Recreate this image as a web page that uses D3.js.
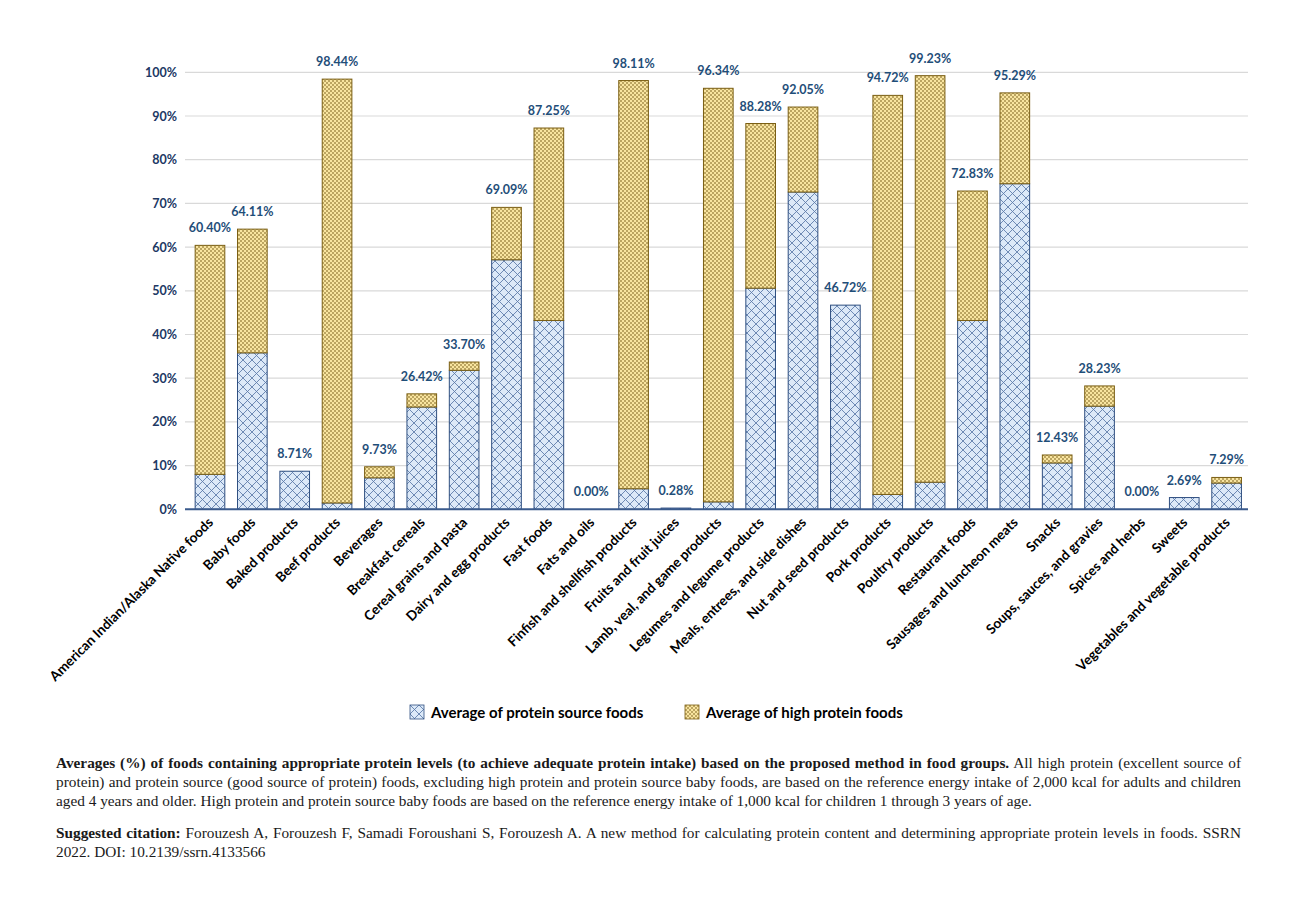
<!DOCTYPE html>
<html>
<head>
<meta charset="utf-8">
<script src="https://cdn.jsdelivr.net/npm/d3@7"></script>
<style>
  html, body { margin: 0; padding: 0; background: #fff; }
  #wrap { position: relative; width: 1297px; height: 917px; overflow: hidden; }
  svg { position: absolute; left: 0; top: 0; }
  .cap { position: absolute; left: 56px; width: 1185px; font-family: "Liberation Serif", "Times New Roman", serif;
         font-size: 15.3px; line-height: 19px; color: #1a1a1a; white-space: nowrap; }
  .just { text-align: justify; text-align-last: justify; white-space: normal; }
  b { font-weight: bold; }
</style>
</head>
<body>
<div id="wrap"></div>
<script>
const categories = [
  "American Indian/Alaska Native foods", "Baby foods", "Baked products", "Beef products", "Beverages",
  "Breakfast cereals", "Cereal grains and pasta", "Dairy and egg products", "Fast foods", "Fats and oils",
  "Finfish and shellfish products", "Fruits and fruit juices", "Lamb, veal, and game products",
  "Legumes and legume products", "Meals, entrees, and side dishes", "Nut and seed products",
  "Pork products", "Poultry products", "Restaurant foods", "Sausages and luncheon meats", "Snacks",
  "Soups, sauces, and gravies", "Spices and herbs", "Sweets", "Vegetables and vegetable products"
];
// total of both series (data labels)
const totals = [60.40, 64.11, 8.71, 98.44, 9.73, 26.42, 33.70, 69.09, 87.25, 0.00, 98.11, 0.28, 96.34,
  88.28, 92.05, 46.72, 94.72, 99.23, 72.83, 95.29, 12.43, 28.23, 0.00, 2.69, 7.29];
// Average of protein source foods (lower, blue)
const proteinSource = [8.0, 35.8, 8.71, 1.45, 7.2, 23.4, 31.8, 57.1, 43.2, 0.0, 4.7, 0.28, 1.7,
  50.6, 72.6, 46.72, 3.4, 6.2, 43.2, 74.5, 10.6, 23.6, 0.0, 2.69, 6.0];
const yTicks = [0, 10, 20, 30, 40, 50, 60, 70, 80, 90, 100];
const seriesNames = ["Average of protein source foods", "Average of high protein foods"];

const W = 1297, H = 917;
const svg = d3.select("#wrap").append("svg").attr("width", W).attr("height", H);

// patterns
const defs = svg.append("defs");
const pc = defs.append("pattern").attr("id", "cross").attr("patternUnits", "userSpaceOnUse")
  .attr("width", 9).attr("height", 9);
pc.append("rect").attr("width", 9).attr("height", 9).attr("fill", "#dce9f8");
pc.append("path").attr("d", "M0,0 L9,9 M9,0 L0,9")
  .attr("stroke", "#5a78a8").attr("stroke-width", 0.85).attr("fill", "none");
const pd = defs.append("pattern").attr("id", "dots").attr("patternUnits", "userSpaceOnUse")
  .attr("width", 4).attr("height", 4);
pd.append("rect").attr("width", 4).attr("height", 4).attr("fill", "#f9e5a0");
pd.append("circle").attr("cx", 1).attr("cy", 1).attr("r", 0.8).attr("fill", "#6e5310");
pd.append("circle").attr("cx", 3).attr("cy", 3).attr("r", 0.8).attr("fill", "#6e5310");

const fills = ["url(#cross)", "url(#dots)"];
const strokes = ["#2f4f80", "#7a5e12"];

const x = d3.scaleBand().domain(categories).range([188.8, 1247.8]).paddingInner(0.30).paddingOuter(0.15);
const y = d3.scaleLinear().domain([0, 100]).range([509.3, 72.3]);

const rows = categories.map((c, i) => ({
  cat: c, source: proteinSource[i], high: Math.max(0, totals[i] - proteinSource[i]), total: totals[i]
}));
const stack = d3.stack().keys(["source", "high"])(rows);

// gridlines
svg.append("g").selectAll("line").data(yTicks.filter(t => t > 0)).join("line")
  .attr("x1", 185).attr("x2", 1248).attr("y1", d => y(d)).attr("y2", d => y(d))
  .attr("stroke", "#d9d9d9").attr("stroke-width", 1.2);

// y axis labels
const yAxis = d3.axisLeft(y).tickValues(yTicks).tickFormat(d => d + "%").tickSize(0).tickPadding(0);
const ga = svg.append("g").attr("transform", "translate(177,0)").call(yAxis);
ga.select(".domain").remove();
ga.selectAll("text").attr("font-family", "Lato, 'Open Sans', sans-serif").attr("font-weight", "bold")
  .attr("font-size", 12.5).attr("fill", "#203864");

// bars
svg.append("g").selectAll("g").data(stack).join("g")
  .attr("fill", (d, i) => fills[i]).attr("stroke", (d, i) => strokes[i]).attr("stroke-width", 1)
  .selectAll("rect").data(d => d.filter(s => s[1] - s[0] > 0.001)).join("rect")
  .attr("x", d => x(d.data.cat)).attr("width", x.bandwidth())
  .attr("y", d => y(d[1])).attr("height", d => y(d[0]) - y(d[1]));

// baseline
svg.append("line").attr("x1", 185).attr("x2", 1248).attr("y1", y(0)).attr("y2", y(0))
  .attr("stroke", "#3a5a8c").attr("stroke-width", 2);

// data labels
svg.append("g").selectAll("text").data(rows).join("text")
  .attr("x", d => x(d.cat) + x.bandwidth() / 2).attr("y", d => y(d.total) - 13)
  .attr("text-anchor", "middle").attr("font-family", "Lato, 'Open Sans', sans-serif")
  .attr("font-weight", "bold").attr("font-size", 12.5).attr("fill", "#1f4e79")
  .text(d => d.total.toFixed(2) + "%");

// category labels
svg.append("g").selectAll("text").data(categories).join("text")
  .attr("transform", d => `translate(${x(d) + x.bandwidth() / 2 + 4},${y(0) + 14}) rotate(-45)`)
  .attr("text-anchor", "end").attr("font-family", "Lato, 'Open Sans', sans-serif")
  .attr("font-weight", "bold").attr("font-size", 13.6).attr("fill", "#000")
  .text(d => d);

// legend
const legX = [410, 685];
const lg = svg.append("g").selectAll("g").data(seriesNames).join("g")
  .attr("transform", (d, i) => `translate(${legX[i]},705)`);
lg.append("rect").attr("width", 14).attr("height", 14)
  .attr("fill", (d, i) => fills[i]).attr("stroke", (d, i) => strokes[i]).attr("stroke-width", 0.8);
lg.append("text").attr("x", 21).attr("y", 12.5).attr("font-family", "Lato, 'Open Sans', sans-serif")
  .attr("font-weight", "bold").attr("font-size", 15).attr("fill", "#000").text(d => d);

// caption
const wrap = d3.select("#wrap");
const capLines = [
  {top: 753, cls: "cap just", html: "<b>Averages (%) of foods containing appropriate protein levels (to achieve adequate protein intake) based on the proposed method in food groups.</b> All high protein (excellent source of"},
  {top: 772, cls: "cap just", html: "protein) and protein source (good source of protein) foods, excluding high protein and protein source baby foods, are based on the reference energy intake of 2,000 kcal for adults and children"},
  {top: 791, cls: "cap", html: "aged 4 years and older. High protein and protein source baby foods are based on the reference energy intake of 1,000 kcal for children 1 through 3 years of age."},
  {top: 823, cls: "cap just", html: "<b>Suggested citation:</b> Forouzesh A, Forouzesh F, Samadi Foroushani S, Forouzesh A. A new method for calculating protein content and determining appropriate protein levels in foods. SSRN"},
  {top: 842, cls: "cap", html: "2022. DOI: 10.2139/ssrn.4133566"}
];
wrap.selectAll("div.cap").data(capLines).join("div")
  .attr("class", d => d.cls).style("top", d => d.top + "px").html(d => d.html);
</script>
</body>
</html>
